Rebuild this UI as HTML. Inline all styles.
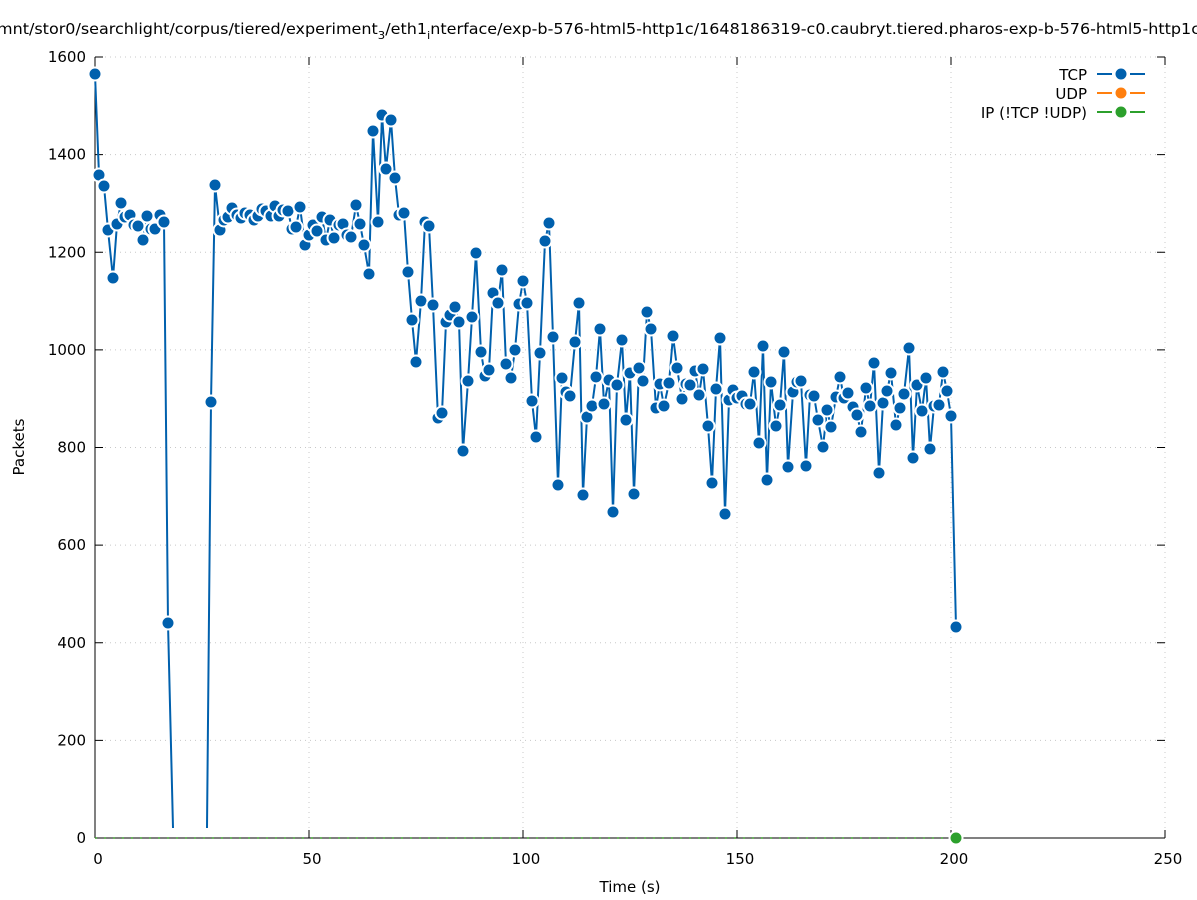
<!DOCTYPE html>
<html><head><meta charset="utf-8"><style>
body{margin:0;background:#fff;}
svg{display:block;font-family:"DejaVu Sans","Liberation Sans",sans-serif;}
</style></head><body>
<svg id="s" width="1197" height="900" viewBox="0 0 1197 900" xmlns="http://www.w3.org/2000/svg">
<rect width="1197" height="900" fill="#fff"/>
<g stroke="#c8c8c8" stroke-width="1" stroke-dasharray="1,4">
<line x1="95" y1="740.4" x2="1165" y2="740.4"/><line x1="95" y1="642.8" x2="1165" y2="642.8"/>
<line x1="95" y1="545.1" x2="1165" y2="545.1"/><line x1="95" y1="447.5" x2="1165" y2="447.5"/>
<line x1="95" y1="349.9" x2="1165" y2="349.9"/><line x1="95" y1="252.3" x2="1165" y2="252.3"/>
<line x1="95" y1="154.6" x2="1165" y2="154.6"/><line x1="95" y1="57" x2="1165" y2="57"/>
<line x1="309" y1="57" x2="309" y2="838"/><line x1="523" y1="57" x2="523" y2="838"/>
<line x1="737" y1="57" x2="737" y2="838"/><line x1="951" y1="57" x2="951" y2="838"/>
<line x1="1165" y1="57" x2="1165" y2="838"/>
</g>
<g stroke="#000" stroke-width="1">
<line x1="95" y1="57" x2="95" y2="838"/><line x1="95" y1="838" x2="1165" y2="838"/>
</g>
<g id="ticks" stroke="#000" stroke-width="1"></g>
<g font-size="15" fill="#000" text-anchor="end" id="yl"></g>
<g font-size="15" fill="#000" text-anchor="middle" id="xl"></g>
<text x="630" y="892" font-size="15" text-anchor="middle">Time (s)</text>
<text transform="translate(24,447) rotate(-90)" font-size="15" text-anchor="middle">Packets</text>
<text x="-3" y="34" font-size="15" textLength="1203" lengthAdjust="spacingAndGlyphs">mnt/stor0/searchlight/corpus/tiered/experiment<tspan font-size="11" dy="5">3</tspan><tspan dy="-5">/eth1</tspan><tspan font-size="11" dy="5">i</tspan><tspan dy="-5">nterface/exp-b-576-html5-http1c/1648186319-c0.caubryt.tiered.pharos-exp-b-576-html5-http1c</tspan></text>
<line x1="95" y1="838" x2="956" y2="838" stroke="#3a9a2a" stroke-width="1.5" stroke-dasharray="2,7"/>
<g id="data"></g>
<circle cx="956" cy="838" r="6.5" fill="#2ca02c" stroke="#fff" stroke-width="2"/>
<g font-size="15" text-anchor="end">
<text x="1087" y="80">TCP</text><text x="1087" y="99">UDP</text><text x="1087" y="118">IP (!TCP  !UDP)</text>
</g>
<g stroke-width="2">
<path d="M1097 74H1112M1130 74H1145" stroke="#0060ad"/><circle cx="1121" cy="74" r="6.5" fill="#0060ad" stroke="#fff" stroke-width="2"/>
<path d="M1097 93H1112M1130 93H1145" stroke="#ff7f0e"/><circle cx="1121" cy="93" r="6.5" fill="#ff7f0e" stroke="#fff" stroke-width="2"/>
<path d="M1097 112H1112M1130 112H1145" stroke="#2ca02c"/><circle cx="1121" cy="112" r="6.5" fill="#2ca02c" stroke="#fff" stroke-width="2"/>
</g>
</svg>
<script>
var ns="http://www.w3.org/2000/svg";
function el(t,a,p){var e=document.createElementNS(ns,t);for(var k in a)e.setAttribute(k,a[k]);p.appendChild(e);return e;}
var tk=document.getElementById('ticks'),yl=document.getElementById('yl'),xl=document.getElementById('xl');
for(var i=0;i<=8;i++){var y=838-i*97.625;
el('line',{x1:95,y1:y,x2:103,y2:y},tk);el('line',{x1:1157,y1:y,x2:1165,y2:y},tk);
var t=el('text',{x:86,y:y+5},yl);t.textContent=i*200;}
for(var i=0;i<=5;i++){var x=95+i*214;
el('line',{x1:x,y1:838,x2:x,y2:830},tk);el('line',{x1:x,y1:57,x2:x,y2:65},tk);
var t=el('text',{x:x+3,y:864},xl);t.textContent=i*50;}
var seg1=[[95,74],[99,175],[104,186],[108,230],[113,278],[117,224],[121,203],[125,217],[130,215],[134,225],[138,226],[143,240],[147,216],[151,229],[155,229],[160,215],[164,222],[168,623]];
var seg2=[[211,402],[215,185],[220,230],[224,220],[228,217],[232,208],[237,215],[241,218],[245,213],[250,215],[254,220],[258,216],[262,209],[266,211],[271,216],[275,206],[279,216],[283,210],[288,211],[292,229],[296,227],[300,207],[305,245],[309,235],[313,225],[317,231],[322,217],[326,240],[330,220],[334,238],[339,225],[343,224],[347,235],[351,237],[356,205],[360,224],[364,245],[369,274],[373,131],[378,222],[382,115],[386,169],[391,120],[395,178],[399,215],[404,213],[408,272],[412,320],[416,362],[421,301],[425,222],[429,226],[433,305],[438,418],[442,413],[446,322],[450,315],[455,307],[459,322],[463,451],[468,381],[472,317],[476,253],[481,352],[485,376],[489,370],[493,293],[498,303],[502,270],[506,364],[511,378],[515,350],[519,304],[523,281],[527,303],[532,401],[536,437],[540,353],[545,241],[549,223],[553,337],[558,485],[562,378],[566,392],[570,396],[575,342],[579,303],[583,495],[587,417],[592,406],[596,377],[600,329],[604,404],[609,380],[613,512],[617,385],[622,340],[626,420],[630,373],[634,494],[639,368],[643,381],[647,312],[651,329],[656,408],[660,384],[664,406],[669,383],[673,336],[677,368],[682,399],[686,384],[690,385],[695,371],[699,395],[703,369],[708,426],[712,483],[716,389],[720,338],[725,514],[729,400],[733,390],[737,398],[742,396],[746,404],[750,404],[754,372],[759,443],[763,346],[767,480],[771,382],[776,426],[780,405],[784,352],[788,467],[793,392],[797,382],[801,381],[806,466],[810,395],[814,396],[818,420],[823,447],[827,410],[831,427],[836,397],[840,377],[844,398],[848,393],[853,407],[857,415],[861,432],[866,388],[870,406],[874,363],[879,473],[883,403],[887,391],[891,373],[896,425],[900,408],[904,394],[909,348],[913,458],[917,385],[922,411],[926,378],[930,449],[934,406],[939,405],[943,372],[947,391],[951,416],[956,627]];
var d=document.getElementById('data');
function pl(p){return p.map(function(q){return q.join(',')}).join(' ');}
el('polyline',{points:pl(seg1.concat([[173,828]])),fill:'none',stroke:'#0060ad','stroke-width':2},d);
el('polyline',{points:pl([[207,828]].concat(seg2)),fill:'none',stroke:'#0060ad','stroke-width':2},d);
seg1.concat(seg2).forEach(function(q){el('circle',{cx:q[0],cy:q[1],r:6.5,fill:'#0060ad',stroke:'#fff','stroke-width':2},d);});
</script>
</body></html>
